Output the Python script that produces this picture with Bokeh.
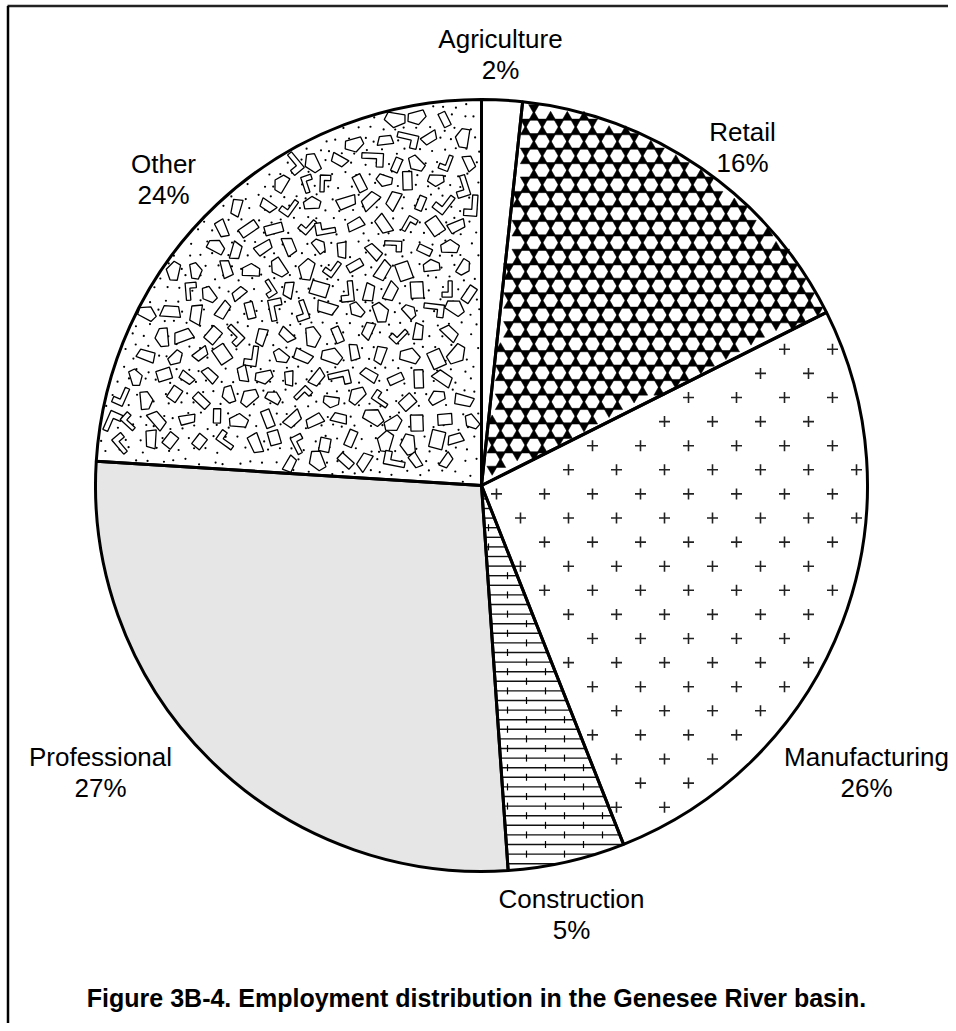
import math
import numpy as np
from bokeh.plotting import figure
from bokeh.models import Range1d
from bokeh.core.properties import value
from bokeh.embed import file_html
from bokeh.resources import INLINE

# ---------------- data ----------------
categories = ["Agriculture", "Retail", "Manufacturing", "Construction", "Professional", "Other"]
shares = [1.7, 15.9, 26.4, 4.9, 27.1, 24.0]          # percent, clockwise from 12 o'clock
pct_labels = ["2%", "16%", "26%", "5%", "27%", "24%"]
title_text = "Figure 3B-4. Employment distribution in the Genesee River basin."

# ---------------- layout (screen pixel coords, y down) ----------------
W, H = 948, 1023
CX, CY, R = 481.0, 485.0, 386.0
label_pos = [(500, 38), (742, 131), (866, 756), (571, 898), (100, 756), (163, 163)]
LINE_GAP = 31
FONT = "Liberation Sans"
LABEL_SIZE = "26px"

def Y(yy):  # screen y (down) -> data y (up)
    return float(H) - np.asarray(yy, dtype=float)

p = figure(width=W, height=H, output_backend="svg", toolbar_location=None,
           x_range=Range1d(0, W), y_range=Range1d(0, H),
           min_border=0, outline_line_color=None)
p.axis.visible = False
p.grid.visible = False
p.background_fill_color = "white"

cum = np.concatenate([[0], np.cumsum(shares)])
frac0 = cum[:-1] / 100.0
frac1 = cum[1:] / 100.0
start_ang = np.pi / 2 - 2 * np.pi * frac0
end_ang = np.pi / 2 - 2 * np.pi * frac1
fills = ["white", "white", "white", "white", "#e6e6e6", "white"]

p.wedge(x=CX, y=float(Y(CY)), radius=R, start_angle=start_ang, end_angle=end_ang,
        direction="clock", fill_color=fills, line_color=None)

def theta_of(xx, yy):
    return np.mod(np.arctan2(xx - CX, -(yy - CY)), 2 * np.pi)

def inside(xx, yy, k, m=0.0):
    xx = np.asarray(xx, float); yy = np.asarray(yy, float)
    r = np.hypot(xx - CX, yy - CY)
    t = theta_of(xx, yy)
    a0 = 2 * np.pi * frac0[k]; a1 = 2 * np.pi * frac1[k]
    ok = (t >= a0) & (t <= a1) & (r <= R - m)
    d0 = r * np.sin(np.clip(t - a0, 0, np.pi / 2))
    d1 = r * np.sin(np.clip(a1 - t, 0, np.pi / 2))
    return ok & (d0 >= m) & (d1 >= m)

def hash2(i, j, s=0.0):
    v = np.sin(i * 12.9898 + j * 78.233 + s * 37.719) * 43758.5453
    return v - np.floor(v)

# --- Retail: hexagonal star texture
d = 16.7
h = d * math.sqrt(3) / 2
tx, ty, tkind = [], [], []
for j in range(-40, 40):
    yj = 300.0 + j * h
    for i in range(-40, 40):
        xa = 500.0 + i * d + (j % 2) * d / 2
        tx.append(xa + d / 2); ty.append(yj + h / 3); tkind.append("triangle")
        tx.append(xa); ty.append(yj + 2 * h / 3); tkind.append("inverted_triangle")
tx = np.array(tx); ty = np.array(ty); tkind = np.array(tkind)
ok = inside(tx, ty, 1, 3.5)
for kind in ["triangle", "inverted_triangle"]:
    sel = ok & (tkind == kind)
    p.scatter(x=tx[sel], y=Y(ty[sel]), marker=kind, size=10.5, fill_color="black",
              line_color="black", line_width=0.5)

# --- Manufacturing: sparse plus signs
mx, my = [], []
for j in range(-30, 30):
    for i in range(-20, 20):
        mx.append(520.0 + 48 * i + 24 * (j % 2)); my.append(469.3 + 24.1 * j)
mx = np.array(mx); my = np.array(my)
ok = inside(mx, my, 2, 6)
p.scatter(x=mx[ok], y=Y(my[ok]), marker="cross", size=11, line_color="#222222", line_width=1.6)

# --- Construction: horizontal lines with brick ticks
hx0, hx1, hy = [], [], []
kx, ky = [], []
for j in range(-60, 60):
    yy = 700.0 + 9.6 * j
    if yy <= CY + 3:
        continue
    xs = np.arange(CX - 200, CX + 300, 0.5)
    sel = inside(xs, np.full_like(xs, yy), 3, 0.5)
    if sel.sum() < 2:
        continue
    hx0.append(xs[sel].min()); hx1.append(xs[sel].max()); hy.append(yy)
    off = 0 if j % 2 == 0 else 19
    for xt in np.arange(450 + off, 700, 38):
        if inside(np.array([xt]), np.array([yy]), 3, 2.5)[0]:
            kx.append(xt); ky.append(yy)
hy = np.array(hy)
p.segment(x0=hx0, y0=Y(hy), x1=hx1, y1=Y(hy), line_color="#111111", line_width=1.4)
ky = np.array(ky)
p.segment(x0=kx, y0=Y(ky - 3.5), x1=kx, y1=Y(ky + 3.5), line_color="black", line_width=1.2)

# --- Other: dots and small irregular polygons
dx_, dy_ = [], []
for j in range(-60, 60):
    for i in range(-60, 60):
        x0 = 300.0 + i * 12.5 + (j % 2) * 6.0 + (hash2(i, j, 1) - 0.5) * 6
        y0 = 300.0 + j * 11.5 + (hash2(i, j, 2) - 0.5) * 6
        dx_.append(x0); dy_.append(y0)
dx_ = np.array(dx_); dy_ = np.array(dy_)
ok = inside(dx_, dy_, 5, 2)
p.scatter(x=dx_[ok], y=Y(dy_[ok]), marker="circle", size=2.2, fill_color="black", line_color=None)

shapes = [
    [(-7, -3.5), (7, -3.5), (7, 3.5), (-7, 3.5)],
    [(-8, -4), (8, -4), (5, 4), (-6, 4)],
    [(-7, -4), (7, -4), (7, 2), (0, 6), (-7, 2)],
    [(-8, -5), (8, -5), (8, 5), (3, 5), (3, -1), (-8, -1)],
    [(-5, -7), (5, -6), (4, 7), (-6, 6)],
    [(-8, -2), (0, -7), (8, -2), (6, 4), (-7, 4)],
    [(-6, -3), (6, -5), (8, 3), (-7, 4)],
]
pxs, pys = [], []
for j in range(-40, 40):
    for i in range(-40, 40):
        cx0 = 290.0 + i * 26.0 + (j % 2) * 13.0 + (hash2(i, j, 3) - 0.5) * 10
        cy0 = 290.0 + j * 21.5 + (hash2(i, j, 4) - 0.5) * 8
        if not inside(np.array([cx0]), np.array([cy0]), 5, 9)[0]:
            continue
        sh = shapes[int(hash2(i, j, 5) * len(shapes)) % len(shapes)]
        ang = hash2(i, j, 6) * 2 * np.pi
        sc = 1.0 + 0.35 * hash2(i, j, 7)
        ca, sa = math.cos(ang), math.sin(ang)
        xs = [cx0 + sc * (a * ca - b * sa) for a, b in sh]
        ys = [cy0 + sc * (a * sa + b * ca) for a, b in sh]
        pxs.append(xs); pys.append(list(Y(ys)))
p.patches(xs=pxs, ys=pys, fill_color="white", line_color="black", line_width=1.3)

# outlines
p.wedge(x=CX, y=float(Y(CY)), radius=R, start_angle=start_ang, end_angle=end_ang,
        direction="clock", fill_alpha=0, line_color="black", line_width=3)

# labels
lx = [q[0] for q in label_pos]
ly = np.array([q[1] for q in label_pos], float)
p.text(x=lx, y=Y(ly), text=categories, text_align="center", text_baseline="middle",
       text_font=value(FONT), text_font_size=LABEL_SIZE, text_color="black")
p.text(x=lx, y=Y(ly + LINE_GAP), text=pct_labels, text_align="center", text_baseline="middle",
       text_font=value(FONT), text_font_size=LABEL_SIZE, text_color="black")

# title
p.text(x=[476], y=Y([997]), text=[title_text], text_align="center", text_baseline="middle",
       text_font=value(FONT), text_font_size="25px", text_font_style="bold", text_color="black")

# frame (top and left edges)
p.line(x=[7, W], y=Y([5.5, 5.5]), line_color="#222222", line_width=2.5)
p.line(x=[7.5, 7.5], y=Y([5.5, H]), line_color="black", line_width=2.5)

open("out.html", "w").write(file_html(p, INLINE))
